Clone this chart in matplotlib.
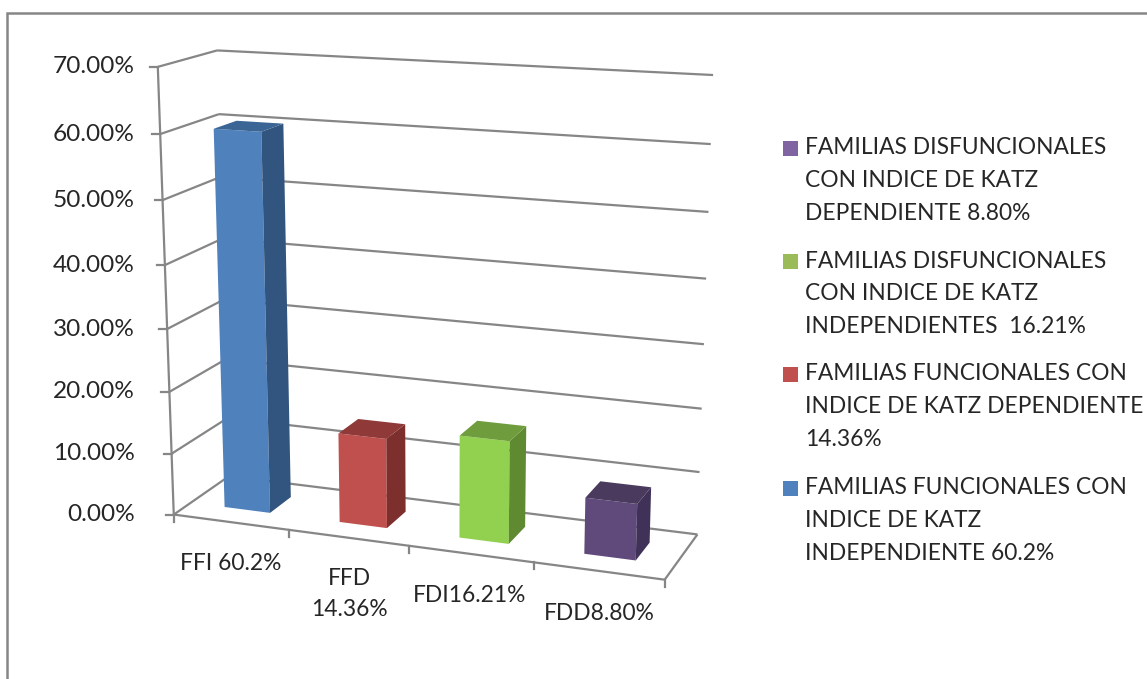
import numpy as np
import matplotlib
matplotlib.use('Agg')
import matplotlib.pyplot as plt

plt.rcParams['font.family'] = ['Lato', 'DejaVu Sans']

# data
categories = ['FFI 60.2%', 'FFD\n14.36%', 'FDI16.21%', 'FDD8.80%']
values = [60.2, 14.36, 16.21, 8.80]
yticks = [0, 10, 20, 30, 40, 50, 60, 70]
front_colors = ['#4F81BD', '#C0504D', '#92D050', '#604A7B']
side_colors = ['#32557F', '#7D2F2D', '#5F8A31', '#3F3157']
top_colors = ['#3A6595', '#8F3A38', '#6F9C3C', '#4A3A5E']
legend_entries = [
    ['FAMILIAS DISFUNCIONALES', 'CON INDICE DE KATZ', 'DEPENDIENTE 8.80%'],
    ['FAMILIAS DISFUNCIONALES', 'CON INDICE DE KATZ', 'INDEPENDIENTES  16.21%'],
    ['FAMILIAS FUNCIONALES CON', 'INDICE DE KATZ DEPENDIENTE', '14.36%'],
    ['FAMILIAS FUNCIONALES CON', 'INDICE DE KATZ', 'INDEPENDIENTE 60.2%'],
]
legend_colors = ['#8064A2', '#9BBB59', '#C0504D', '#4F81BD']
legend_tops = [148, 261, 374, 488]
label_pos = [(231, 563), (349, 594), (470, 595), (599, 614)]

GRID = '#868686'
TEXT = '#262626'

# perspective camera fitted on the corners of the chart box (cat, value, depth) -> pixel
world = np.array([[0, 0, 0], [4, 0, 0], [0, 70, 0], [0, 0, 1], [4, 0, 1],
                  [0, 70, 1], [4, 70, 1], [0, 10, 0], [0, 60, 0],
                  [4, 10, 1], [4, 60, 1], [1, 0, 0], [2, 0, 0], [3, 0, 0]], float)
pixel = np.array([[174, 514], [665, 581], [157, 67], [229, 478], [697, 534],
                  [217, 50], [713, 75], [172, 453], [161, 134],
                  [700, 470], [711, 145], [289, 529], [408, 546], [534, 563]], float)
rows, rhs = [], []
for (a, b, c), (u, v) in zip(world, pixel):
    rows.append([a, b, c, 1, 0, 0, 0, 0, -u*a, -u*b, -u*c])
    rows.append([0, 0, 0, 0, a, b, c, 1, -v*a, -v*b, -v*c])
    rhs += [u, v]
cam = np.linalg.lstsq(np.array(rows), np.array(rhs), rcond=None)[0]
cam = np.append(cam, 1).reshape(3, 4)


def proj(x, y, z):
    p = cam @ np.array([x, y, z, 1.0])
    return p[0]/p[2], p[1]/p[2]


def line(ax, a, b, lw=1.6):
    pa, pb = proj(*a), proj(*b)
    ax.plot([pa[0], pb[0]], [pa[1], pb[1]], color=GRID, lw=lw, solid_capstyle='butt', zorder=2)


def bar(ax, i, h, front, side, top):
    x0, x1 = i+0.3, i+0.7
    z0, z1 = 0.3, 0.7
    ax.fill(*zip(proj(x0, 0, z0), proj(x1, 0, z0), proj(x1, h, z0), proj(x0, h, z0)), color=front, lw=0, zorder=3)
    ax.fill(*zip(proj(x1, 0, z0), proj(x1, 0, z1), proj(x1, h, z1), proj(x1, h, z0)), color=side, lw=0, zorder=3)
    ax.fill(*zip(proj(x0, h, z0), proj(x1, h, z0), proj(x1, h, z1), proj(x0, h, z1)), color=top, lw=0, zorder=3)


fig = plt.figure(figsize=(11.47, 6.79), dpi=100)
ax = fig.add_axes([0, 0, 1, 1])
ax.set_xlim(0, 1147)
ax.set_ylim(679, 0)
ax.axis('off')

# outer frame
ax.plot([7, 7, 1147], [679, 13, 13], color=GRID, lw=1.8, solid_joinstyle='miter')

# walls and grid
for v in yticks:
    line(ax, (0, v, 0), (0, v, 1))
    line(ax, (0, v, 1), (4, v, 1))
    px, py = proj(0, v, 0)
    ax.plot([px-8, px], [py, py], color=GRID, lw=1.6)
    ax.text(135, py, '{:.2f}%'.format(v), ha='right', va='center', fontsize=17.6, color=TEXT)
line(ax, (0, 0, 0), (0, 70, 0))
line(ax, (0, 0, 0), (4, 0, 0))
line(ax, (4, 0, 0), (4, 0, 1))
for i in range(5):
    px, py = proj(i, 0, 0)
    ax.plot([px, px], [py, py+7], color=GRID, lw=1.6)

# bars
for i, h in enumerate(values):
    bar(ax, i, h, front_colors[i], side_colors[i], top_colors[i])

# category labels
for name, (px, py) in zip(categories, label_pos):
    ax.text(px, py, name, ha='center', va='center', fontsize=16.4, color=TEXT, linespacing=1.55)

# legend
for entry, col, top in zip(legend_entries, legend_colors, legend_tops):
    ax.fill([783, 798, 798, 783], [top-7, top-7, top+8, top+8], color=col, lw=0)
    for j, txt in enumerate(entry):
        ax.text(805, top+j*32.6, txt, ha='left', va='center', fontsize=16.4, color=TEXT)

fig.savefig('out.png', dpi=100)
